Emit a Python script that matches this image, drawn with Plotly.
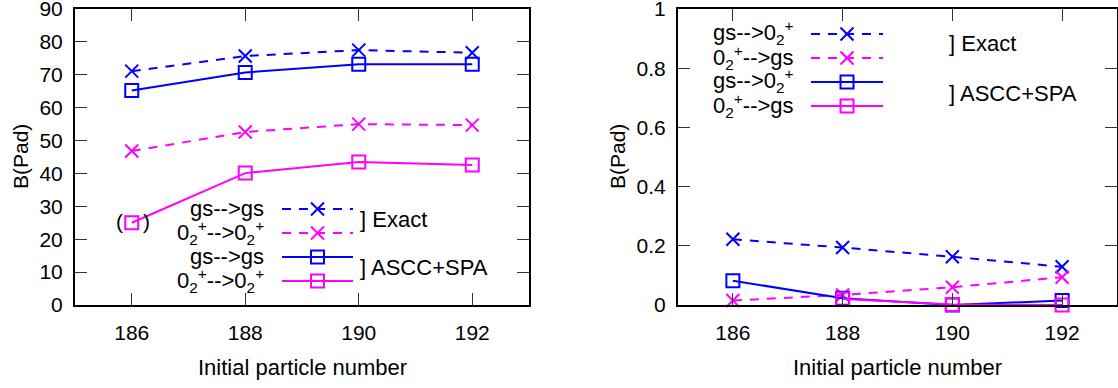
import plotly.graph_objects as go

# ---- data ----
nuclei = [186, 188, 190, 192]

# left panel: diagonal values
exact_gs_gs = [71.1, 75.7, 77.5, 76.7]
exact_02_02 = [46.8, 52.6, 55.0, 54.7]
ascc_gs_gs = [65.2, 70.7, 73.2, 73.2]
ascc_02_02 = [25.0, 40.1, 43.5, 42.6]

# right panel: off-diagonal values
exact_gs_02 = [0.222, 0.194, 0.163, 0.129]
exact_02_gs = [0.015, 0.034, 0.060, 0.094]
ascc_gs_02 = [0.082, 0.023, 0.0, 0.015]
ascc_02_gs = [None, 0.020, 0.002, 0.0]

left_yticks = [0, 10, 20, 30, 40, 50, 60, 70, 80, 90]
right_yticks = [0, 0.2, 0.4, 0.6, 0.8, 1]
right_yticklabels = ["0", "0.2", "0.4", "0.6", "0.8", "1"]

BLUE = "#0000ff"
MAG = "#ff00ff"
W, H = 1118, 388
L, R, T, B = 75, 1117, 9, 305          # plot-area pixel box
PW, PH = R - L, B - T
FONT = "Liberation Sans, Arial, sans-serif"
DASH = "9px,8px"

def px(x):
    return (x - L) / PW

def py(y):
    return (B - y) / PH

fig = go.Figure()

def series(x, y, color, dash, symbol, xa, ya):
    fig.add_trace(go.Scatter(
        x=x, y=y, mode="lines+markers", xaxis=xa, yaxis=ya,
        line=dict(color=color, width=2, dash=dash),
        marker=dict(symbol=symbol, size=13, color=color,
                    line=dict(color=color, width=2)),
        cliponaxis=False, showlegend=False))

series(nuclei, exact_gs_gs, BLUE, DASH, "x-thin-open", "x", "y")
series(nuclei, exact_02_02, MAG, DASH, "x-thin-open", "x", "y")
series(nuclei, ascc_gs_gs, BLUE, "solid", "square-open", "x", "y")
series(nuclei, ascc_02_02, MAG, "solid", "square-open", "x", "y")

series(nuclei, exact_gs_02, BLUE, DASH, "x-thin-open", "x2", "y2")
series(nuclei, exact_02_gs, MAG, DASH, "x-thin-open", "x2", "y2")
series(nuclei, ascc_gs_02, BLUE, "solid", "square-open", "x2", "y2")
series(nuclei, ascc_02_gs, MAG, "solid", "square-open", "x2", "y2")

# ---- legend keys drawn on a pixel overlay axis ----
def key(x0, x1, y, color, dash, symbol):
    fig.add_trace(go.Scatter(
        x=[x0, x1], y=[y, y], mode="lines", xaxis="x3", yaxis="y3",
        line=dict(color=color, width=2, dash=dash),
        cliponaxis=False, showlegend=False, hoverinfo="skip"))
    fig.add_trace(go.Scatter(
        x=[(x0 + x1) / 2], y=[y], mode="markers", xaxis="x3", yaxis="y3",
        marker=dict(symbol=symbol, size=13, color=color,
                    line=dict(color=color, width=2)),
        cliponaxis=False, showlegend=False, hoverinfo="skip"))

left_rows = [209, 233, 257, 281]
right_rows = [34, 58, 82, 106]
styles = [(BLUE, DASH, "x-thin-open"), (MAG, DASH, "x-thin-open"),
          (BLUE, "solid", "square-open"), (MAG, "solid", "square-open")]
for yy, (c, d, s) in zip(left_rows, styles):
    key(282, 353, yy, c, d, s)
for yy, (c, d, s) in zip(right_rows, styles):
    key(811, 883, yy, c, d, s)

O2 = "0<sub>2</sub><sup>+</sup>"
left_labels = ["gs-->gs", O2 + "-->" + O2, "gs-->gs", O2 + "-->" + O2]
right_labels = ["gs-->" + O2, O2 + "-->gs", "gs-->" + O2, O2 + "-->gs"]

ann = []
def txt(x, y, t, anchor="right", size=22, angle=0):
    ann.append(dict(x=px(x), y=py(y), xref="paper", yref="paper",
                    text=t, showarrow=False, xanchor=anchor, yanchor="middle",
                    textangle=angle,
                    font=dict(family=FONT, size=size, color="black")))

for yy, t in zip(left_rows, left_labels):
    txt(266, yy - 1, t)
for yy, t in zip(right_rows, right_labels):
    txt(796, yy - 1, t)
txt(358, 219, "] Exact", "left")
txt(358, 267, "] ASCC+SPA", "left")
txt(947, 44, "] Exact", "left")
txt(947, 93, "] ASCC+SPA", "left")
txt(119, 221, "(", "center", 21)
txt(146, 221, ")", "center", 21)

# axis titles
txt(20, 157, "B(Pad)", "center", 21, -90)
txt(617, 157, "B(Pad)", "center", 21, -90)
txt(302, 368, "Initial particle number", "center", 22)
txt(897, 368, "Initial particle number", "center", 22)

axcommon = dict(showline=True, linecolor="black", linewidth=2, mirror="ticks",
                ticks="inside", ticklen=12, tickwidth=1, tickcolor="#333",
                showgrid=False, zeroline=False, ticklabeloverflow="allow",
                tickfont=dict(family=FONT, size=21, color="black"))

fig.update_layout(
    width=W, height=H,
    margin=dict(l=L, r=W - R, t=T, b=H - B, autoexpand=False),
    paper_bgcolor="white", plot_bgcolor="rgba(0,0,0,0)",
    showlegend=False,
    annotations=ann,
    xaxis=dict(domain=[px(75), px(529)], range=[185, 193], anchor="y",
               tickvals=nuclei, ticklabelstandoff=8, **axcommon),
    yaxis=dict(domain=[0, 1], range=[0, 90], anchor="x",
               tickvals=left_yticks, ticklabelstandoff=6, **axcommon),
    xaxis2=dict(domain=[px(678), px(1117)], range=[185, 193], anchor="y2",
                tickvals=nuclei, ticklabelstandoff=8, **axcommon),
    yaxis2=dict(domain=[0, 1], range=[0, 1], anchor="x2",
                tickvals=right_yticks, ticktext=right_yticklabels,
                ticklabelstandoff=6, **axcommon),
    xaxis3=dict(domain=[0, 1], range=[L, R], anchor="y3", visible=False),
    yaxis3=dict(domain=[0, 1], range=[B, T], anchor="x3", visible=False),
)

fig.write_html(
    "out.html",
    config={"displayModeBar": False},
    post_script="document.body.style.margin='0px';document.body.style.overflow='hidden';",
)
